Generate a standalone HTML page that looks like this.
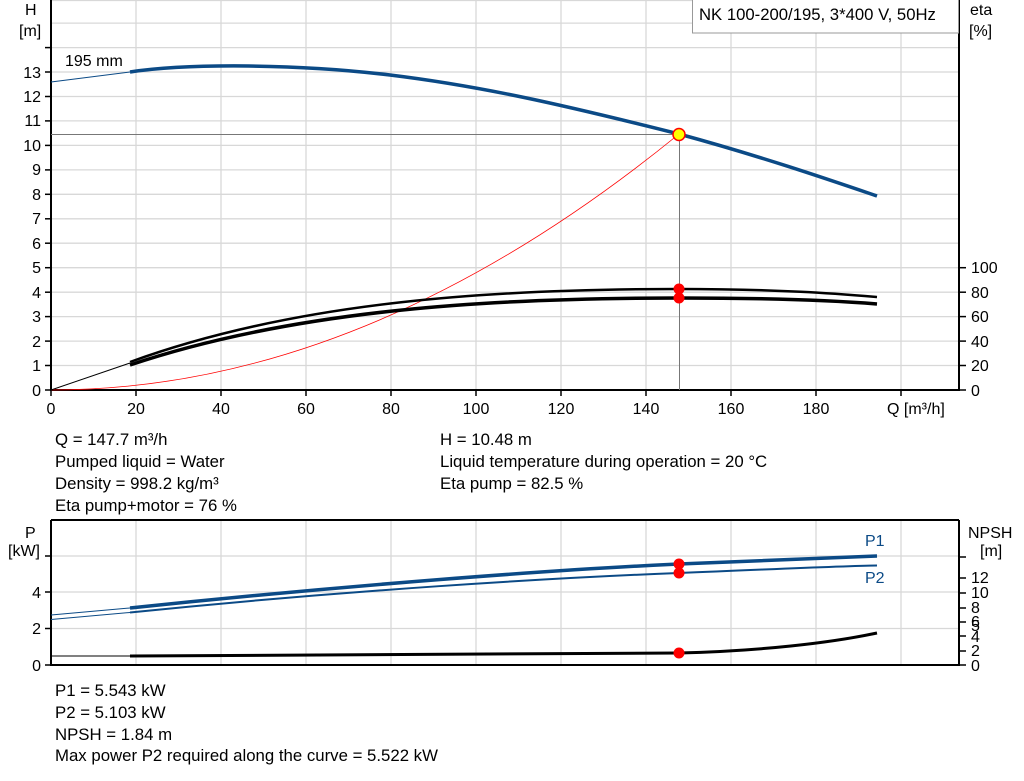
<!DOCTYPE html>
<html><head><meta charset="utf-8"><style>
html,body{margin:0;padding:0;background:#fff;}
svg{display:block;font-family:"Liberation Sans",Arial,sans-serif;}
</style></head><body>
<svg width="1024" height="781" viewBox="0 0 1024 781" xmlns="http://www.w3.org/2000/svg">
<rect width="1024" height="781" fill="#fff"/>
<g stroke="#d8d8d8" stroke-width="1.3">
<line x1="136" y1="0" x2="136" y2="390"/><line x1="221" y1="0" x2="221" y2="390"/><line x1="306" y1="0" x2="306" y2="390"/><line x1="391" y1="0" x2="391" y2="390"/><line x1="476" y1="0" x2="476" y2="390"/><line x1="561" y1="0" x2="561" y2="390"/><line x1="646" y1="0" x2="646" y2="390"/><line x1="731" y1="0" x2="731" y2="390"/><line x1="816" y1="0" x2="816" y2="390"/><line x1="901" y1="0" x2="901" y2="390"/>
<line x1="51" y1="365.5" x2="959" y2="365.5"/><line x1="51" y1="341.1" x2="959" y2="341.1"/><line x1="51" y1="316.6" x2="959" y2="316.6"/><line x1="51" y1="292.2" x2="959" y2="292.2"/><line x1="51" y1="267.7" x2="959" y2="267.7"/><line x1="51" y1="243.2" x2="959" y2="243.2"/><line x1="51" y1="218.8" x2="959" y2="218.8"/><line x1="51" y1="194.3" x2="959" y2="194.3"/><line x1="51" y1="169.9" x2="959" y2="169.9"/><line x1="51" y1="145.4" x2="959" y2="145.4"/><line x1="51" y1="120.9" x2="959" y2="120.9"/><line x1="51" y1="96.5" x2="959" y2="96.5"/><line x1="51" y1="72" x2="959" y2="72"/><line x1="51" y1="47.6" x2="959" y2="47.6"/><line x1="51" y1="23.1" x2="959" y2="23.1"/><line x1="51" y1="0.5" x2="959" y2="0.5"/>
</g>
<g stroke="#000" stroke-width="2">
<line x1="51" y1="0" x2="51" y2="391"/><line x1="50" y1="390" x2="959" y2="390"/><line x1="959" y1="0" x2="959" y2="391"/>
</g>
<g stroke="#000" stroke-width="1.5">
<line x1="45" y1="390" x2="51" y2="390"/><line x1="45" y1="365.5" x2="51" y2="365.5"/><line x1="45" y1="341.1" x2="51" y2="341.1"/><line x1="45" y1="316.6" x2="51" y2="316.6"/><line x1="45" y1="292.2" x2="51" y2="292.2"/><line x1="45" y1="267.7" x2="51" y2="267.7"/><line x1="45" y1="243.2" x2="51" y2="243.2"/><line x1="45" y1="218.8" x2="51" y2="218.8"/><line x1="45" y1="194.3" x2="51" y2="194.3"/><line x1="45" y1="169.9" x2="51" y2="169.9"/><line x1="45" y1="145.4" x2="51" y2="145.4"/><line x1="45" y1="120.9" x2="51" y2="120.9"/><line x1="45" y1="96.5" x2="51" y2="96.5"/><line x1="45" y1="72" x2="51" y2="72"/><line x1="45" y1="47.6" x2="51" y2="47.6"/>
<line x1="959" y1="390" x2="966" y2="390"/><line x1="959" y1="365.5" x2="966" y2="365.5"/><line x1="959" y1="341.1" x2="966" y2="341.1"/><line x1="959" y1="316.6" x2="966" y2="316.6"/><line x1="959" y1="292.2" x2="966" y2="292.2"/><line x1="959" y1="267.7" x2="966" y2="267.7"/>
<line x1="51" y1="390" x2="51" y2="396"/><line x1="136" y1="390" x2="136" y2="396"/><line x1="221" y1="390" x2="221" y2="396"/><line x1="306" y1="390" x2="306" y2="396"/><line x1="391" y1="390" x2="391" y2="396"/><line x1="476" y1="390" x2="476" y2="396"/><line x1="561" y1="390" x2="561" y2="396"/><line x1="646" y1="390" x2="646" y2="396"/><line x1="731" y1="390" x2="731" y2="396"/><line x1="816" y1="390" x2="816" y2="396"/><line x1="901" y1="390" x2="901" y2="396"/>
</g>
<g font-size="16" fill="#000" text-anchor="end">
<text x="41" y="396">0</text><text x="41" y="371">1</text><text x="41" y="347">2</text><text x="41" y="322">3</text><text x="41" y="298">4</text><text x="41" y="273">5</text><text x="41" y="249">6</text><text x="41" y="224">7</text><text x="41" y="200">8</text><text x="41" y="175">9</text><text x="41" y="151">10</text><text x="41" y="126">11</text><text x="41" y="102">12</text><text x="41" y="78">13</text>
</g>
<g font-size="16" fill="#000">
<text x="971" y="396">0</text><text x="971" y="371">20</text><text x="971" y="347">40</text><text x="971" y="322">60</text><text x="971" y="298">80</text><text x="971" y="273">100</text>
<text x="970" y="15">eta</text><text x="969" y="36">[%]</text>
<text x="25" y="15">H</text><text x="19" y="36">[m]</text>
<text x="65" y="66">195 mm</text>
<text x="887" y="414">Q [m³/h]</text>
</g>
<g font-size="16" fill="#000" text-anchor="middle">
<text x="51" y="414">0</text><text x="136" y="414">20</text><text x="221" y="414">40</text><text x="306" y="414">60</text><text x="391" y="414">80</text><text x="476" y="414">100</text><text x="561" y="414">120</text><text x="646" y="414">140</text><text x="731" y="414">160</text><text x="816" y="414">180</text>
</g>
<rect x="692.5" y="-1" width="266" height="34" fill="#fff" stroke="#999" stroke-width="1"/>
<text x="699" y="20" font-size="16.7">NK 100-200/195, 3*400 V, 50Hz</text>
<g stroke="#777" stroke-width="1"><line x1="51" y1="134.5" x2="679" y2="134.5"/><line x1="679.5" y1="134" x2="679.5" y2="390"/></g>
<path d="M51,390 Q365,390 679,134" fill="none" stroke="#f00" stroke-width="0.8"/>
<path d="M51,82 L130,72" stroke="#0b4a86" stroke-width="1" fill="none"/>
<path d="M130,72 C190,63 300,64 390,75 C480,86 560,104 679,134 C760,156 830,180 877,196" stroke="#0b4a86" stroke-width="3.5" fill="none"/>
<path d="M51,390 L130,363" stroke="#000" stroke-width="1" fill="none"/>
<path d="M130,362 C300,300 500,289 679,289 C780,289 840,294 877,297" stroke="#000" stroke-width="2.5" fill="none"/>
<path d="M130,365 C300,308 500,298 679,298 C780,298 840,301 877,304" stroke="#000" stroke-width="3.5" fill="none"/>
<circle cx="679" cy="289" r="5.5" fill="#f00"/><circle cx="679" cy="298" r="5.5" fill="#f00"/>
<circle cx="679" cy="134.5" r="6" fill="#ff0" stroke="#f00" stroke-width="1.5"/>
<g font-size="16.8" fill="#000">
<text x="55" y="445">Q = 147.7 m³/h</text><text x="55" y="467">Pumped liquid = Water</text><text x="55" y="489">Density = 998.2 kg/m³</text><text x="55" y="511">Eta pump+motor = 76 %</text>
<text x="440" y="445">H = 10.48 m</text><text x="440" y="467">Liquid temperature during operation = 20 °C</text><text x="440" y="489">Eta pump = 82.5 %</text>
</g>
<g stroke="#d8d8d8" stroke-width="1.3">
<line x1="136" y1="520" x2="136" y2="665"/><line x1="221" y1="520" x2="221" y2="665"/><line x1="306" y1="520" x2="306" y2="665"/><line x1="391" y1="520" x2="391" y2="665"/><line x1="476" y1="520" x2="476" y2="665"/><line x1="561" y1="520" x2="561" y2="665"/><line x1="646" y1="520" x2="646" y2="665"/><line x1="731" y1="520" x2="731" y2="665"/><line x1="816" y1="520" x2="816" y2="665"/><line x1="901" y1="520" x2="901" y2="665"/>
<line x1="51" y1="628.5" x2="959" y2="628.5"/><line x1="51" y1="592" x2="959" y2="592"/><line x1="51" y1="556" x2="959" y2="556"/>
</g>
<g stroke="#000" stroke-width="2">
<line x1="51" y1="520" x2="959" y2="520"/><line x1="51" y1="520" x2="51" y2="666"/><line x1="50" y1="665" x2="959" y2="665"/><line x1="959" y1="520" x2="959" y2="666"/>
</g>
<g stroke="#000" stroke-width="1.5">
<line x1="45" y1="665" x2="51" y2="665"/><line x1="45" y1="628.5" x2="51" y2="628.5"/><line x1="45" y1="592" x2="51" y2="592"/><line x1="45" y1="556" x2="51" y2="556"/>
<line x1="959" y1="665" x2="966" y2="665"/><line x1="959" y1="651" x2="966" y2="651"/><line x1="959" y1="636" x2="966" y2="636"/><line x1="959" y1="622" x2="966" y2="622"/><line x1="959" y1="608" x2="966" y2="608"/><line x1="959" y1="593" x2="966" y2="593"/><line x1="959" y1="578" x2="966" y2="578"/><line x1="959" y1="557" x2="966" y2="557"/>
</g>
<g font-size="16" fill="#000" text-anchor="end">
<text x="41" y="671">0</text><text x="41" y="634">2</text><text x="41" y="598">4</text>
</g>
<g font-size="16" fill="#000">
<text x="25" y="538">P</text><text x="8" y="556">[kW]</text>
<text x="968" y="538">NPSH</text><text x="980" y="556">[m]</text>
<text x="971" y="671">0</text><text x="971" y="656">2</text><text x="971" y="642">4</text><text x="971" y="631">5</text><text x="971" y="627">6</text><text x="971" y="613">8</text><text x="971" y="598">10</text><text x="971" y="583">12</text>
</g>
<g font-size="16" fill="#0b4a86"><text x="865" y="546">P1</text><text x="865" y="583">P2</text></g>
<path d="M51,615 L130,608" stroke="#0b4a86" stroke-width="1" fill="none"/>
<path d="M51,619.5 L130,612.5" stroke="#0b4a86" stroke-width="1" fill="none"/>
<path d="M130,608 C350,585 550,570 679,564 C780,560 840,557 877,556" stroke="#0b4a86" stroke-width="3.5" fill="none"/>
<path d="M130,612.5 C350,590 550,578 679,573 C780,569 840,566 877,565.5" stroke="#0b4a86" stroke-width="2" fill="none"/>
<path d="M51,656 L130,656" stroke="#000" stroke-width="1" fill="none"/>
<path d="M130,656 C400,655 600,654 679,653 C760,651 830,643 877,633" stroke="#000" stroke-width="3" fill="none"/>
<circle cx="679" cy="564" r="5.5" fill="#f00"/><circle cx="679" cy="573" r="5.5" fill="#f00"/><circle cx="679" cy="653" r="5.5" fill="#f00"/>
<g font-size="16.8" fill="#000">
<text x="55" y="696">P1 = 5.543 kW</text><text x="55" y="718">P2 = 5.103 kW</text><text x="55" y="740">NPSH = 1.84 m</text><text x="55" y="761">Max power P2 required along the curve = 5.522 kW</text>
</g>
</svg>
</body></html>
